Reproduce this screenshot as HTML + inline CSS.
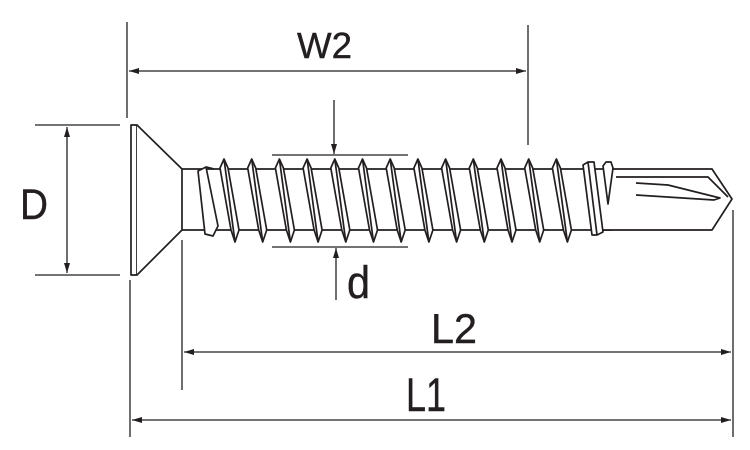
<!DOCTYPE html>
<html><head><meta charset="utf-8"><style>
html,body{margin:0;padding:0;background:#fff;}
svg{display:block}
text{font-family:"Liberation Sans",sans-serif;fill:#231f20}
</style></head><body>
<svg width="750" height="450" viewBox="0 0 750 450" xmlns="http://www.w3.org/2000/svg">
<defs>
<marker id="a" viewBox="0 0 10 6" refX="10" refY="3" markerWidth="10" markerHeight="6" orient="auto-start-reverse" markerUnits="userSpaceOnUse"><path d="M0,0 L10,3 L0,6 Z" fill="#231f20"/></marker>
</defs>
<g stroke="#231f20" stroke-width="1.3" fill="none">
<line x1="127" y1="22" x2="127" y2="118"/>
<line x1="528" y1="25" x2="528" y2="145"/>
<line x1="129" y1="71" x2="526" y2="71" marker-start="url(#a)" marker-end="url(#a)"/>
<line x1="35" y1="125" x2="120" y2="125"/>
<line x1="35" y1="275" x2="120" y2="275"/>
<line x1="67" y1="127" x2="67" y2="273" marker-start="url(#a)" marker-end="url(#a)"/>
<line x1="272" y1="155" x2="408" y2="155"/>
<line x1="272" y1="247" x2="408" y2="247"/>
<line x1="334" y1="100" x2="334" y2="154" marker-end="url(#a)"/>
<line x1="336" y1="300" x2="336" y2="248" marker-end="url(#a)"/>
<line x1="182" y1="240" x2="182" y2="390"/>
<line x1="733" y1="210" x2="733" y2="437"/>
<line x1="184" y1="352" x2="731" y2="352" marker-start="url(#a)" marker-end="url(#a)"/>
<line x1="130" y1="280" x2="130" y2="437"/>
<line x1="132" y1="420" x2="731" y2="420" marker-start="url(#a)" marker-end="url(#a)"/>
</g>
<g stroke="#231f20" stroke-width="1.7" fill="#fff" stroke-linejoin="round">
<rect x="131" y="125" width="6" height="150"/>
<path d="M137,125 L182,169 L182,230 L137,275"/>
<line x1="182" y1="169" x2="612" y2="169"/>
<line x1="182" y1="230" x2="612" y2="230"/>
<path d="M612,169 L712,169 L732,199 L712,230 L600,230" />
<path d="M616,177 L708,177 L728,197" fill="none"/>
<path d="M636,183 L668,185 L720,198 L714,200 L636,195" fill="none"/>
<path d="M198,171 L206,167 L218,226 L213,236 L205,234 Z"/>
<path d="M206,167 L214,169" fill="none"/>
<g id="th">
<path d="M220,168 L224,159 L228,168 L239,230 L235,242 L231,230 Z"/>
<line x1="224" y1="159" x2="235" y2="242"/>
</g>
<use href="#th" x="27.7"/><use href="#th" x="55.4"/><use href="#th" x="83.1"/>
<use href="#th" x="110.8"/><use href="#th" x="138.5"/><use href="#th" x="166.2"/>
<use href="#th" x="193.9"/><use href="#th" x="221.6"/><use href="#th" x="249.3"/>
<use href="#th" x="277"/><use href="#th" x="304.7"/><use href="#th" x="332.4"/>
<path d="M583,165 L588,162 L594,162 L603,232 L597,235 L592,235 Z"/>
<line x1="588" y1="162" x2="597" y2="235"/>
<path d="M603,166 L606,162 L611,162 L613,168 L608,204 Z"/>
</g>
<g stroke="#231f20" stroke-width="0.4">
<text x="297" y="58" font-size="36" textLength="55" lengthAdjust="spacingAndGlyphs">W2</text>
<text x="20" y="219" font-size="43" textLength="28" lengthAdjust="spacingAndGlyphs">D</text>
<text x="347" y="298" font-size="45" textLength="23" lengthAdjust="spacingAndGlyphs">d</text>
<text x="431" y="343" font-size="42" textLength="46" lengthAdjust="spacingAndGlyphs">L2</text>
<text x="406" y="411" font-size="47" textLength="40" lengthAdjust="spacingAndGlyphs">L1</text>
</g>
</svg>
</body></html>
